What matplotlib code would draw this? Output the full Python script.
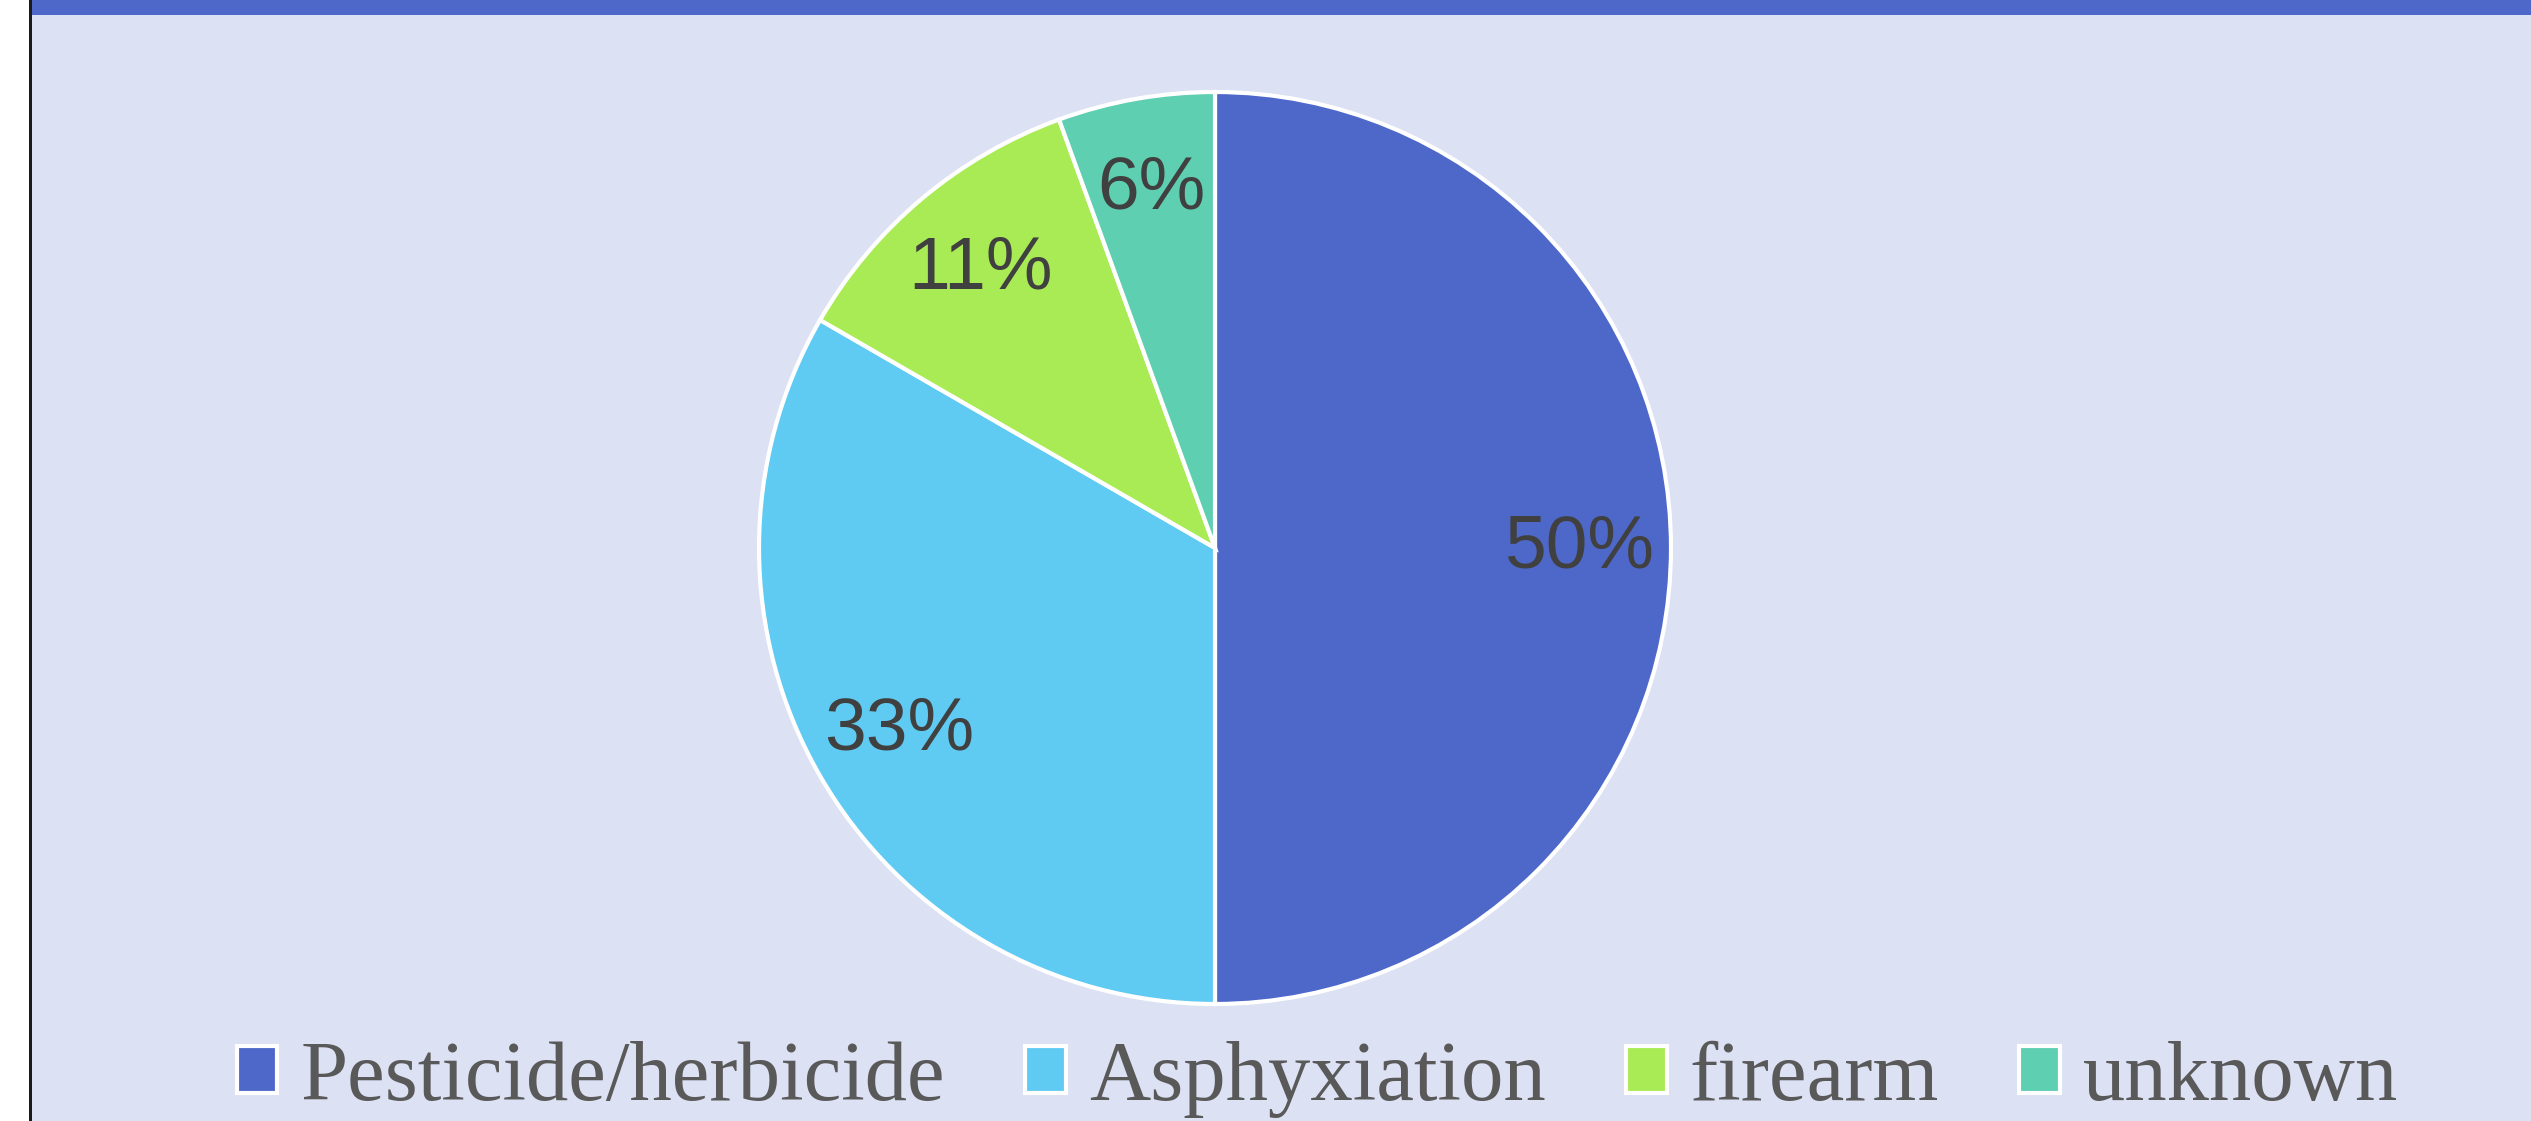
import matplotlib
matplotlib.use("Agg")
import matplotlib.pyplot as plt
from matplotlib.patches import Rectangle

# 数据
categories = ['Pesticide/herbicide', 'Asphyxiation', 'firearm', 'unknown']
counts = [9, 6, 2, 1]
colors = ['#4E68C9', '#5FCBF2', '#A9EB54', '#5ECFB1']

fig = plt.figure(figsize=(25.31, 11.21), dpi=100)
fig.patch.set_facecolor('white')

# 背景、顶部色条和左侧竖线
fig.patches.append(Rectangle((32 / 2531, 0), 1, 1, transform=fig.transFigure,
                             facecolor='#DCE1F4', edgecolor='none', zorder=-3))
fig.patches.append(Rectangle((32 / 2531, 1 - 15 / 1121), 1, 15 / 1121, transform=fig.transFigure,
                             facecolor='#4E68C9', edgecolor='none', zorder=-2))
fig.patches.append(Rectangle((29 / 2531, 0), 3 / 2531, 1, transform=fig.transFigure,
                             facecolor='#1A1A1A', edgecolor='none', zorder=-1))

ax = fig.add_axes([759 / 2531, 117 / 1121, 912 / 2531, 912 / 1121])
ax.set_zorder(5)
ax.set_facecolor('none')
wedges, texts, autotexts = ax.pie(counts, colors=colors, startangle=90, counterclock=False,
                                  autopct='%.0f%%', pctdistance=0.8,
                                  wedgeprops={'edgecolor': 'white', 'linewidth': 3})
for t in autotexts:
    t.set_fontfamily('Liberation Sans')
    t.set_fontsize(54)
    t.set_color('#404040')
ax.set_xlim(-1, 1)
ax.set_ylim(-1, 1)
ax.axis('off')

leg = fig.legend(wedges, categories, loc='center', bbox_to_anchor=(0.5205, 0.037), ncol=4,
                 frameon=False, handlelength=0.48, handleheight=0.48, handletextpad=0.27,
                 columnspacing=0.95, borderaxespad=0,
                 prop={'family': 'Liberation Serif', 'size': 61})
for t in leg.get_texts():
    t.set_color('#595959')

fig.savefig('out.png', dpi=100, facecolor=fig.get_facecolor())
